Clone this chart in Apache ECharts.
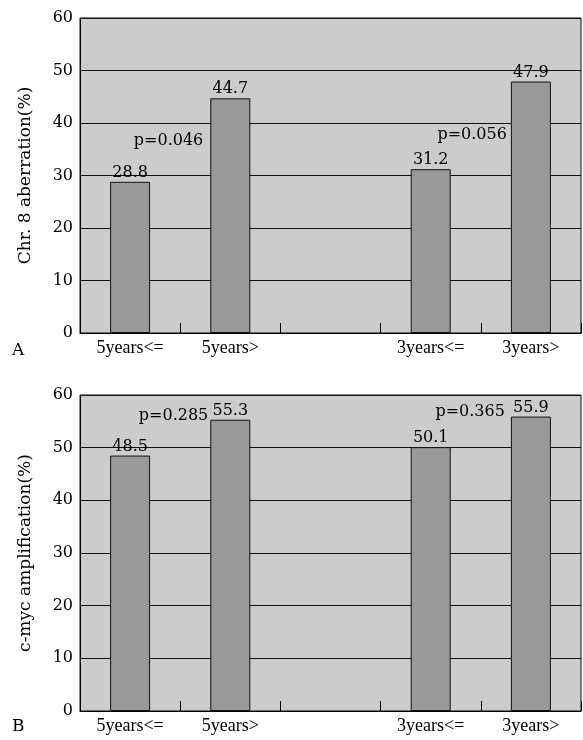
<!DOCTYPE html>
<html>
<head>
<meta charset="utf-8">
<script src="https://cdn.jsdelivr.net/npm/echarts@6/dist/echarts.min.js"></script>
<style>html,body{margin:0;padding:0;background:#fff}#c{width:583px;height:740px}</style>
</head>
<body>
<div id="c"></div>
<script>
var categories = ['5years<=', '5years>', '', '3years<=', '3years>'];
var chr8Values = [28.8, 44.7, null, 31.2, 47.9];
var mycValues = [48.5, 55.3, null, 50.1, 55.9];
var chr8PLabels = ['', 'p=0.046', '', '', 'p=0.056'];
var mycPLabels = ['', 'p=0.285', '', '', 'p=0.365'];
var yTicks = [0, 10, 20, 30, 40, 50, 60];
var axisNames = ['Chr. 8 aberration(%)', 'c-myc amplification(%)'];
var panelLetters = ['A', 'B'];

// label offsets (style) relative to each bar's top-left corner
var chr8POffsets = [null, [-7, 43], null, null, [-4, 53]];
var mycPOffsets = [null, [-2, -4], null, null, [-6, -5]];

var FONT = 'DejaVu Serif';
var grids = [
  {left: 80, top: 18, width: 501, height: 315},
  {left: 80, top: 395, width: 501, height: 316}
];

function xAxisFor(i) {
  return {
    type: 'category', gridIndex: i, data: categories,
    axisLine: {lineStyle: {color: '#000', width: 1}},
    axisTick: {show: true, inside: true, length: 10, lineStyle: {color: '#000'}},
    axisLabel: {color: '#000', fontFamily: 'Liberation Serif', fontSize: 18, margin: 6, interval: 0,
      formatter: function (v) { return v; }}
  };
}
function yAxisFor(i) {
  return {
    type: 'value', gridIndex: i, min: yTicks[0], max: yTicks[yTicks.length - 1], interval: yTicks[1] - yTicks[0],
    name: axisNames[i], nameLocation: 'middle', nameGap: 46, nameRotate: 90,
    nameTextStyle: {color: '#000', fontFamily: FONT, fontSize: 17},
    axisLine: {show: true, lineStyle: {color: '#000', width: 1}},
    axisTick: {show: false},
    axisLabel: {color: '#000', fontFamily: FONT, fontSize: 16, margin: 7},
    splitLine: {show: true, lineStyle: {color: '#111', width: 1}}
  };
}
function barSeries(i, values) {
  return {
    type: 'bar', xAxisIndex: i, yAxisIndex: i, barWidth: 40, z: 3,
    data: values,
    itemStyle: {color: '#999999', borderColor: '#111', borderWidth: 1},
    label: {show: true, position: 'top', distance: 1, color: '#000', fontFamily: FONT, fontSize: 16,
      formatter: function (p) { return p.value == null ? '' : p.value.toFixed(1); }}
  };
}
function pSeries(i, values, labels, offsets) {
  return {
    type: 'bar', xAxisIndex: i, yAxisIndex: i, barWidth: 40, barGap: '-100%', z: 4, silent: true,
    data: values.map(function (v, k) {
      if (!labels[k]) return {value: v, label: {show: false}};
      return {value: v, label: {show: true, position: offsets[k], align: 'right', verticalAlign: 'middle',
        formatter: labels[k]}};
    }),
    itemStyle: {color: 'rgba(0,0,0,0)', borderWidth: 0},
    label: {color: '#000', fontFamily: FONT, fontSize: 16}
  };
}

var chart = echarts.init(document.getElementById('c'), null, {renderer: 'canvas'});
chart.setOption({
  animation: false,
  backgroundColor: '#fff',
  grid: grids.map(function (g) {
    return Object.assign({show: true, backgroundColor: '#cccccc', borderColor: '#111', borderWidth: 1}, g);
  }),
  xAxis: [xAxisFor(0), xAxisFor(1)],
  yAxis: [yAxisFor(0), yAxisFor(1)],
  series: [
    barSeries(0, chr8Values), pSeries(0, chr8Values, chr8PLabels, chr8POffsets),
    barSeries(1, mycValues), pSeries(1, mycValues, mycPLabels, mycPOffsets)
  ],
  graphic: [
    {type: 'text', left: 12, top: 342, style: {text: panelLetters[0], fill: '#000', font: '17px "DejaVu Serif"'}},
    {type: 'text', left: 12, top: 718, style: {text: panelLetters[1], fill: '#000', font: '17px "DejaVu Serif"'}}
  ]
});
</script>
</body>
</html>
